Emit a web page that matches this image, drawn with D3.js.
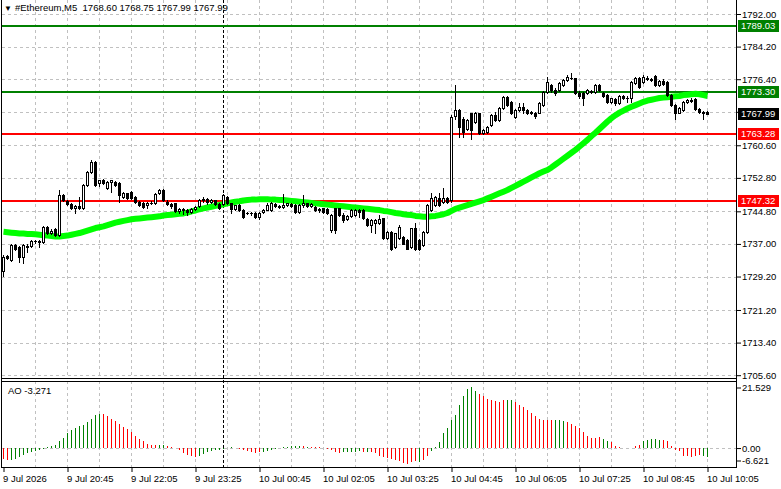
<!DOCTYPE html>
<html><head><meta charset="utf-8">
<script src="https://cdn.jsdelivr.net/npm/d3@7"></script>
<style>html,body{margin:0;padding:0;background:#fff;overflow:hidden}</style>
</head><body>
<svg id="c" width="781" height="489"></svg>
<script>
// ---------- DATA ----------
const symbol = "#Ethereum,M5";
const barIndex = d3.range(177); // M5 bars from 9 Jul 19:25 to 10 Jul 10:05

const open = [1730.5,1734.0,1733.2,1736.7,1736.3,1733.8,1736.5,1736.6,1737.6,1737.7,1737.5,1741.0,1739.5,1740.5,1739.1,1748.7,1747.3,1746.6,1745.6,1746.0,
1745.6,1751.1,1754.3,1756.7,1751.5,1752.3,1750.3,1751.9,1751.9,1751.5,1748.3,1749.1,1749.5,1748.3,1747.1,1746.7,1746.3,1746.9,1746.7,1749.1,
1749.9,1747.1,1746.5,1746.7,1744.8,1745.3,1745.0,1744.7,1745.4,1746.0,1747.4,1747.8,1747.0,1747.4,1746.6,1746.6,1748.3,1746.7,1745.4,1746.3,
1745.1,1744.4,1744.3,1744.5,1743.4,1744.7,1745.2,1745.1,1746.6,1746.0,1745.9,1746.4,1746.6,1746.3,1744.7,1746.2,1746.7,1746.0,1745.9,1745.1,
1745.5,1745.3,1740.3,1745.5,1745.5,1743.9,1742.9,1743.7,1743.9,1745.1,1745.1,1742.9,1741.5,1741.9,1741.9,1743.1,1738.3,1739.9,1736.3,1738.3,
1738.7,1737.9,1736.3,1740.7,1737.9,1736.7,1739.9,1745.1,1746.3,1747.9,1747.1,1747.9,1747.4,1767.6,1769.0,1767.0,1764.6,1768.2,1766.2,1768.2,
1763.6,1763.8,1765.4,1767.8,1766.6,1769.4,1772.2,1771.0,1767.4,1769.0,1769.8,1769.0,1768.3,1768.4,1768.4,1770.2,1773.4,1775.0,1773.9,1773.8,
1775.0,1776.2,1776.8,1776.6,1773.2,1773.0,1773.0,1773.7,1773.4,1775.0,1773.0,1772.6,1771.0,1771.6,1770.6,1772.4,1771.9,1771.8,1775.4,1776.6,
1775.8,1776.8,1776.5,1777.1,1775.0,1776.0,1775.8,1772.6,1770.2,1768.4,1769.0,1771.0,1771.4,1771.6,1769.2,1768.6,1768.60];
const high = [1734.3,1734.4,1737.0,1737.0,1736.6,1737.0,1736.9,1737.9,1738.0,1737.9,1741.2,1741.2,1740.5,1740.8,1749.9,1748.9,1747.6,1746.8,1746.4,1748.3,
1751.3,1754.5,1757.0,1756.9,1752.4,1752.5,1752.1,1752.4,1752.1,1751.7,1749.5,1749.3,1749.7,1748.5,1747.3,1747.0,1747.1,1747.2,1749.1,1750.2,
1750.1,1747.4,1746.9,1746.9,1745.7,1745.6,1745.3,1745.7,1746.1,1747.8,1748.3,1748.0,1747.8,1747.6,1746.9,1749.0,1748.5,1746.9,1746.4,1746.5,
1745.3,1744.6,1744.6,1744.7,1744.7,1745.3,1746.8,1747.1,1746.9,1746.3,1748.9,1746.9,1746.9,1746.5,1746.5,1748.7,1746.9,1746.9,1746.1,1745.6,
1745.7,1745.5,1744.1,1745.7,1745.7,1744.3,1743.9,1745.3,1745.3,1745.3,1745.3,1743.1,1742.9,1742.9,1743.9,1743.3,1740.1,1740.1,1739.7,1741.5,
1738.9,1738.1,1740.9,1741.9,1738.1,1740.1,1746.5,1749.1,1748.5,1749.1,1750.3,1748.3,1767.8,1775.0,1769.3,1767.3,1767.0,1768.4,1768.5,1768.4,
1764.5,1765.3,1768.1,1768.5,1769.7,1772.5,1772.5,1771.2,1769.3,1770.6,1770.6,1769.3,1768.9,1768.6,1770.9,1773.7,1777.0,1775.3,1774.3,1775.7,
1776.4,1777.4,1777.8,1776.8,1773.6,1773.4,1774.1,1773.9,1775.3,1775.3,1773.3,1772.8,1772.0,1771.8,1772.6,1772.7,1772.3,1776.0,1776.9,1776.9,
1777.3,1777.1,1776.8,1777.4,1776.3,1776.4,1776.0,1772.8,1770.4,1769.7,1771.3,1771.7,1771.8,1771.9,1769.5,1768.8,1768.75];
const low = [1729.4,1733.4,1732.8,1735.6,1732.7,1732.5,1735.1,1736.3,1737.3,1736.3,1737.3,1739.3,1739.3,1738.9,1738.9,1747.3,1746.2,1745.3,1744.4,1745.4,
1745.4,1750.9,1754.0,1750.9,1750.9,1751.3,1750.1,1749.5,1750.9,1747.1,1748.1,1747.8,1747.7,1746.9,1746.1,1745.5,1745.5,1746.5,1746.5,1748.9,
1747.3,1746.3,1745.7,1744.6,1744.5,1744.1,1743.9,1744.5,1745.0,1745.8,1747.1,1746.6,1746.7,1746.3,1745.4,1746.4,1746.5,1744.3,1745.2,1744.9,
1743.3,1744.1,1744.0,1743.3,1743.0,1744.5,1745.0,1744.9,1745.8,1745.6,1745.7,1746.1,1745.8,1744.5,1744.5,1745.9,1745.8,1745.8,1744.9,1744.6,
1744.5,1744.1,1739.9,1739.5,1743.7,1742.3,1742.7,1743.5,1743.7,1743.5,1742.9,1741.3,1739.9,1739.5,1741.7,1738.1,1738.1,1735.5,1736.1,1738.1,
1736.9,1735.7,1736.1,1735.6,1735.6,1736.5,1739.7,1744.9,1746.1,1746.1,1746.9,1746.9,1747.0,1767.0,1762.6,1762.6,1764.3,1762.2,1766.0,1763.4,
1763.3,1763.6,1765.2,1766.4,1766.4,1769.2,1770.0,1768.0,1767.2,1768.8,1768.2,1768.1,1768.0,1767.2,1768.2,1770.0,1773.2,1773.4,1772.7,1773.6,
1774.8,1776.0,1776.4,1772.8,1772.0,1770.2,1772.8,1773.0,1773.2,1773.6,1772.1,1770.6,1770.8,1770.3,1770.4,1771.6,1771.0,1771.0,1775.2,1774.4,
1775.6,1776.3,1776.0,1774.8,1774.8,1775.0,1772.3,1770.0,1767.0,1768.2,1768.8,1770.6,1770.9,1769.0,1768.4,1767.0,1767.99];
const close = [1733.9,1733.6,1736.7,1735.9,1733.8,1736.7,1736.2,1737.6,1737.8,1737.5,1741.0,1739.5,1740.2,1739.1,1748.7,1747.5,1746.5,1745.5,1746.1,1745.6,
1751.1,1754.3,1756.7,1751.1,1752.2,1751.5,1751.9,1752.2,1751.1,1748.7,1749.3,1748.0,1747.9,1747.1,1746.3,1745.9,1746.9,1746.7,1748.9,1750.0,
1747.5,1746.5,1746.1,1744.8,1745.3,1745.0,1744.6,1745.4,1745.9,1747.4,1747.8,1747.0,1747.5,1746.6,1745.6,1748.6,1746.7,1745.3,1746.2,1745.1,
1743.5,1744.3,1744.4,1743.5,1744.5,1745.1,1746.4,1746.7,1746.0,1745.8,1746.4,1746.7,1746.0,1744.7,1746.3,1746.7,1746.0,1746.6,1745.1,1745.3,
1744.7,1744.3,1743.9,1740.3,1743.9,1742.7,1743.7,1745.1,1745.1,1744.7,1743.1,1741.5,1742.7,1742.7,1742.9,1738.3,1739.9,1735.9,1739.5,1741.1,
1737.1,1735.9,1740.7,1735.9,1735.9,1739.9,1746.3,1747.9,1748.3,1746.3,1747.9,1747.1,1767.4,1769.0,1765.0,1763.8,1766.6,1764.3,1768.2,1763.6,
1764.2,1765.0,1767.8,1766.7,1769.4,1772.2,1770.2,1768.2,1769.0,1769.8,1769.0,1768.3,1768.6,1767.6,1770.6,1773.4,1775.8,1773.8,1773.0,1775.4,
1776.2,1777.0,1776.6,1773.0,1772.4,1772.0,1773.8,1773.3,1775.0,1773.8,1772.4,1771.0,1771.8,1770.6,1772.4,1771.8,1772.0,1775.8,1776.6,1774.6,
1777.0,1776.5,1776.3,1775.0,1776.0,1775.3,1772.6,1770.2,1768.2,1769.4,1771.0,1771.4,1771.2,1769.2,1768.6,1768.3,1767.99];

// green moving average
const maValues = [1739.9,1739.8,1739.7,1739.6,1739.5,1739.5,1739.4,1739.4,1739.3,1739.2,1739.1,1739.0,1738.9,1738.8,1738.8,1738.9,1739.0,1739.2,1739.4,1739.6,
1739.9,1740.2,1740.5,1740.8,1741.0,1741.2,1741.5,1741.8,1742.1,1742.3,1742.5,1742.7,1742.9,1743.0,1743.1,1743.2,1743.3,1743.4,1743.5,1743.6,
1743.8,1743.9,1744.0,1744.1,1744.2,1744.3,1744.5,1744.8,1745.0,1745.3,1745.5,1745.7,1745.9,1746.1,1746.3,1746.5,1746.7,1746.9,1747.1,1747.2,
1747.4,1747.5,1747.6,1747.6,1747.7,1747.7,1747.7,1747.6,1747.6,1747.5,1747.5,1747.4,1747.3,1747.2,1747.1,1747.0,1746.9,1746.8,1746.7,1746.6,
1746.5,1746.4,1746.3,1746.2,1746.1,1746.0,1745.9,1745.8,1745.7,1745.6,1745.5,1745.4,1745.3,1745.2,1745.1,1744.9,1744.8,1744.6,1744.4,1744.3,
1744.1,1744.0,1743.9,1743.7,1743.6,1743.5,1743.5,1743.6,1743.7,1743.9,1744.1,1744.4,1744.9,1745.4,1745.7,1746.0,1746.3,1746.6,1746.9,1747.2,
1747.5,1747.9,1748.3,1748.7,1749.1,1749.5,1749.9,1750.4,1750.9,1751.4,1751.9,1752.4,1752.9,1753.4,1753.9,1754.3,1754.7,1755.3,1756.0,1756.7,
1757.4,1758.1,1758.8,1759.5,1760.3,1761.1,1761.9,1762.8,1763.6,1764.5,1765.4,1766.3,1767.1,1767.8,1768.4,1768.9,1769.4,1769.8,1770.2,1770.6,
1771.0,1771.3,1771.5,1771.7,1771.9,1772.0,1772.1,1772.2,1772.3,1772.4,1772.6,1772.7,1772.8,1772.9,1772.8,1772.6,1772.4];

// Awesome Oscillator histogram and its colour flags (g = rising, r = falling)
const aoValues = [-3.9,-4.3,-4.1,-3.8,-3.1,-2.3,-1.8,-1.4,-1.2,-0.8,-0.4,0.3,0.8,1.2,2.3,3.5,5.2,6.2,7.0,7.6,
8.2,9.0,10.1,11.6,12.0,11.9,11.1,10.1,9.3,8.5,7.3,6.6,5.6,4.3,3.1,2.3,1.5,1.2,1.05,1.15,
1.2,0.8,0.35,-0.1,-0.8,-1.75,-2.3,-2.7,-2.95,-2.7,-2.0,-1.5,-1.2,-0.85,-0.75,-0.45,-0.1,0.2,0.1,-0.2,
-0.6,-1.2,-1.5,-1.75,-1.5,-1.3,-1.05,-0.6,-0.35,-0.1,0.2,0.35,0.7,0.8,0.6,0.7,0.5,0.4,0.35,0.4,
0.0,-0.35,-0.8,-1.5,-1.6,-1.5,-1.45,-1.4,-1.3,-1.2,-1.4,-1.3,-1.5,-1.75,-2.7,-3.1,-3.5,-3.8,-4.1,-4.6,
-5.2,-5.6,-4.7,-4.65,-4.8,-4.1,-2.9,-1.2,0.3,2.0,5.2,7.0,9.9,11.6,15.1,18.3,20.6,21.529,19.8,19.0,
18.1,17.1,16.7,16.4,16.2,16.7,16.9,16.7,16.0,15.1,14.3,13.2,12.2,11.3,10.1,9.7,9.75,9.8,9.85,9.7,
9.3,9.0,8.5,7.8,7.0,5.5,4.3,3.5,3.6,3.7,3.1,2.3,2.0,0.8,0.2,0.05,0.0,-0.05,0.6,1.2,
2.3,2.9,3.3,3.1,2.9,2.7,2.3,0.8,-0.6,-1.2,-2.7,-2.9,-3.1,-2.7,-2.4,-2.7,-3.271];
const aoColour = "rrggggggggggggggggggggggg" + "rrrrrrrrrrrrrr" + "gg" + "rrrrrrrr" + "ggggggg" + "ggg" + "rrrrrr" +
  "gggggggggg" + "rg" + "rrrg" + "rrr" + "rg" + "gggg" + "rg" + "rrrrrrrrrr" + "rrgrrgggggggggggg" +
  "rrrrrrrgg" + "rrrrrrrrrr" + "gggrrrrrrrrr" + "ggrrrrrrrr" + "gggggrrrrrrrrrrggr";

const priceTicks = [1792.00,1784.20,1776.40,1768.60,1760.60,1752.80,1744.80,1737.00,1729.20,1721.20,1713.40,1705.60];
const levelValues = [1789.03,1773.30,1763.28,1747.32];
const levelKinds  = ["res","res","sup","sup"];
const lastPrice = 1767.99;
const aoTicks = [21.529,0.00,-6.621];
const aoTickLabels = ["21.529","0.00","-6.621"];
const timeTickBars = [0,16,32,48,64,80,96,112,128,144,160,176];
const timeTickLabels = ["9 Jul 2026","9 Jul 20:45","9 Jul 22:05","9 Jul 23:25","10 Jul 00:45","10 Jul 02:05","10 Jul 03:25","10 Jul 04:45","10 Jul 06:05","10 Jul 07:25","10 Jul 08:45","10 Jul 10:05"];
const daySeparatorBar = 55; // 10 Jul 00:00

// ---------- LAYOUT ----------
const F = "'Liberation Sans', Arial, sans-serif";
const FS = 9.5;
const axisX = 736, mainBottom = 378, aoTop = 381, aoBottom = 467;
const svg = d3.select('#c');
const x = d3.scaleLinear().domain([0, 176]).range([3.5, 707.5]);
const y = d3.scaleLinear().domain([1705.6, 1792]).range([375.2, 14]);
const yAO = d3.scaleLinear().domain([-6.621, 21.529]).range([aoBottom, 386.5]);
const crisp = v => Math.round(v) + 0.5;

svg.append('rect').attr('width', 781).attr('height', 489).attr('fill', '#fff');

// grid
const grid = svg.append('g').attr('stroke', '#c0c0c0').attr('stroke-dasharray', '3,3').attr('shape-rendering', 'crispEdges');
grid.selectAll('line.h').data(priceTicks).join('line').attr('class', 'h')
  .attr('x1', 2).attr('x2', axisX).attr('y1', d => crisp(y(d))).attr('y2', d => crisp(y(d)));
const vGridBars = d3.range(8, 177, 8);
grid.selectAll('line.v').data(vGridBars).join('line').attr('class', 'v')
  .attr('x1', d => x(d)).attr('x2', d => x(d)).attr('y1', 0).attr('y2', mainBottom);
grid.selectAll('line.va').data(vGridBars).join('line').attr('class', 'va')
  .attr('x1', d => x(d)).attr('x2', d => x(d)).attr('y1', aoTop).attr('y2', aoBottom);
grid.append('line').attr('x1', 2).attr('x2', axisX).attr('y1', crisp(yAO(0))).attr('y2', crisp(yAO(0)));

// day separator
svg.append('line').attr('x1', x(daySeparatorBar)).attr('x2', x(daySeparatorBar)).attr('y1', 0).attr('y2', aoBottom)
  .attr('stroke', '#000').attr('stroke-dasharray', '3,2').attr('shape-rendering', 'crispEdges');

// levels
const levelColour = k => k === 'res' ? '#008000' : '#ff0000';
svg.selectAll('line.lvl').data(levelValues).join('line').attr('class', 'lvl')
  .attr('x1', 2).attr('x2', axisX).attr('y1', d => Math.round(y(d))).attr('y2', d => Math.round(y(d)))
  .attr('stroke', (d, i) => levelColour(levelKinds[i])).attr('stroke-width', 2).attr('shape-rendering', 'crispEdges');

// MA
const main = svg.append('g');
main.append('path').datum(maValues)
  .attr('d', d3.line().x((d, i) => x(barIndex[i])).y(d => y(d)))
  .attr('fill', 'none').attr('stroke', '#00ff00').attr('stroke-width', 6).attr('stroke-linejoin', 'round');

// candles
const candles = main.append('g').attr('shape-rendering', 'crispEdges');
barIndex.forEach(i => {
  const cx = x(i);
  candles.append('line').attr('x1', cx).attr('x2', cx)
    .attr('y1', Math.round(y(high[i]))).attr('y2', Math.round(y(low[i])) + 1).attr('stroke', '#000');
  const yo = Math.round(y(open[i])), yc = Math.round(y(close[i]));
  const top = Math.min(yo, yc), h = Math.abs(yo - yc);
  if (h < 1) {
    candles.append('line').attr('x1', cx - 1.5).attr('x2', cx + 1.5).attr('y1', top + 0.5).attr('y2', top + 0.5).attr('stroke', '#000');
  } else {
    const bull = close[i] > open[i];
    candles.append('rect').attr('x', cx - 1).attr('y', top + 0.5).attr('width', 2).attr('height', h)
      .attr('fill', bull ? '#fff' : '#000').attr('stroke', '#000');
  }
});

// AO histogram
svg.append('g').attr('shape-rendering', 'crispEdges').selectAll('line').data(aoValues).join('line')
  .attr('x1', (d, i) => x(i)).attr('x2', (d, i) => x(i))
  .attr('y1', Math.round(yAO(0))).attr('y2', d => Math.round(yAO(d)))
  .attr('stroke', (d, i) => aoColour[i] === 'g' ? '#008000' : '#ff0000');

// frames
const fr = svg.append('g').attr('stroke', '#000').attr('shape-rendering', 'crispEdges');
fr.append('line').attr('x1', axisX + 0.5).attr('x2', axisX + 0.5).attr('y1', 0).attr('y2', aoBottom + 1);
fr.append('line').attr('x1', 1.5).attr('x2', 1.5).attr('y1', 0).attr('y2', aoBottom + 1);
fr.append('line').attr('x1', 1).attr('x2', axisX).attr('y1', mainBottom + 0.5).attr('y2', mainBottom + 0.5);
fr.append('line').attr('x1', 1).attr('x2', axisX).attr('y1', aoTop + 0.5).attr('y2', aoTop + 0.5);
fr.append('line').attr('x1', 1).attr('x2', axisX).attr('y1', aoBottom + 0.5).attr('y2', aoBottom + 0.5);

// level boxes on axis (drawn data first, to know which tick labels they hide)
const boxes = levelValues.map((v, i) => ({ v, c: levelColour(levelKinds[i]) })).concat([{ v: lastPrice, c: '#000' }]);
const hidden = t => boxes.some(b => Math.abs(y(b.v) - y(t)) < 8);

// price axis
const pAxis = svg.append('g').attr('transform', `translate(${axisX + 1},0)`)
  .call(d3.axisRight(y).tickValues(priceTicks).tickFormat(d3.format('.2f')).tickSize(4).tickPadding(1));
pAxis.select('.domain').remove();
pAxis.selectAll('line').attr('stroke', '#000');
pAxis.selectAll('text').attr('font-family', F).attr('font-size', FS).attr('fill', '#000');
pAxis.selectAll('.tick').filter(d => hidden(d)).select('text').remove();

// AO axis
const aAxis = svg.append('g').attr('transform', `translate(${axisX + 1},0)`)
  .call(d3.axisRight(yAO).tickValues(aoTicks).tickFormat((d, i) => aoTickLabels[i]).tickSize(4).tickPadding(1));
aAxis.select('.domain').remove();
aAxis.selectAll('.tick').filter(d => d === aoTicks[0]).attr('transform', `translate(0,${yAO(aoTicks[0]) + 1.5})`);
aAxis.selectAll('.tick').filter(d => d === aoTicks[2]).attr('transform', `translate(0,${yAO(aoTicks[2]) - 6})`);
aAxis.selectAll('line').attr('stroke', '#000');
aAxis.selectAll('text').attr('font-family', F).attr('font-size', FS).attr('fill', '#000');

const bg = svg.append('g');
boxes.forEach(b => {
  const yy = Math.round(y(b.v));
  bg.append('rect').attr('x', axisX + 2).attr('y', yy - 6).attr('width', 41).attr('height', 12).attr('fill', b.c);
  bg.append('text').attr('x', axisX + 5).attr('y', yy + 3.4).text(b.v.toFixed(2))
    .attr('font-family', F).attr('font-size', FS).attr('fill', '#fff');
});

// time axis
const tAxis = svg.append('g').attr('transform', `translate(0,${aoBottom + 1})`)
  .call(d3.axisBottom(x).tickValues(timeTickBars).tickFormat((d, i) => timeTickLabels[i]).tickSize(4).tickPadding(2));
tAxis.select('.domain').remove();
tAxis.selectAll('line').attr('stroke', '#000');
tAxis.selectAll('text').attr('text-anchor', 'start').attr('dx', -1).attr('y', 13.5).attr('dy', 0)
  .attr('font-family', F).attr('font-size', FS).attr('fill', '#000');

// header
svg.append('text').attr('x', 4).attr('y', 11).text('▼').attr('font-family', F).attr('font-size', 8).attr('fill', '#000');
svg.append('text').attr('x', 15).attr('y', 11)
  .text(`${symbol}  ${open[176].toFixed(2)} ${high[176].toFixed(2)} ${low[176].toFixed(2)} ${close[176].toFixed(2)}`)
  .attr('font-family', F).attr('font-size', FS).attr('fill', '#000').style('white-space', 'pre');
svg.append('text').attr('x', 8).attr('y', 394).text(`AO ${aoValues[176].toFixed(3)}`)
  .attr('font-family', F).attr('font-size', FS).attr('fill', '#000');
</script>
</body></html>
